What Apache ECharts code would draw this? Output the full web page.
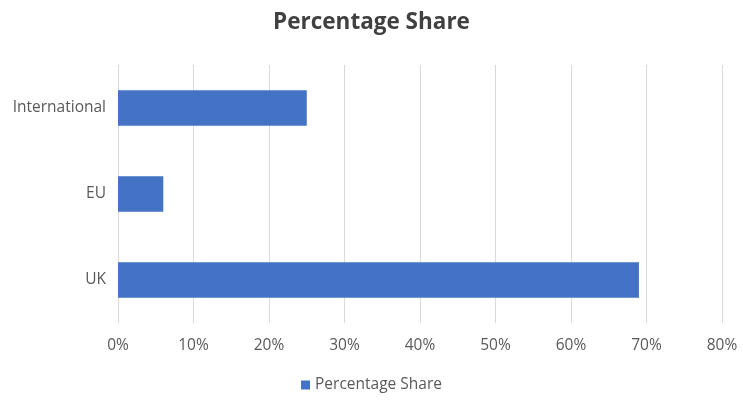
<!DOCTYPE html>
<html>
<head>
<meta charset="utf-8">
<script src="https://cdn.jsdelivr.net/npm/echarts@6/dist/echarts.min.js"></script>
<style>
  html, body { margin: 0; padding: 0; background: #fff; }
  #chart { width: 743px; height: 403px; }
</style>
</head>
<body>
<div id="chart"></div>
<script>
// categories, bottom to top
var categories = ['UK', 'EU', 'International'];
// share values in %
var shareValues = [69, 6, 25];
var seriesName = 'Percentage Share';

var myChart = echarts.init(document.getElementById('chart'));

var option = {
    animation: false,
    textStyle: {
        fontFamily: '"Open Sans", "Liberation Sans", sans-serif'
    },
    title: {
        text: 'Percentage Share',
        left: 'center',
        top: 6,
        textStyle: {
            color: '#404040',
            fontSize: 22.5,
            fontWeight: 'bold',
            fontFamily: '"Open Sans", sans-serif'
        }
    },
    legend: {
        bottom: 5,
        left: 'center',
        itemWidth: 9,
        itemHeight: 9,
        icon: 'rect',
        textStyle: {
            color: '#595959',
            fontSize: 15.5
        },
        data: [seriesName]
    },
    grid: {
        left: 118,
        right: 21,
        top: 65,
        bottom: 80
    },
    xAxis: {
        type: 'value',
        min: 0,
        max: 80,
        interval: 10,
        axisLine: { show: false },
        axisTick: { show: false },
        axisLabel: {
            color: '#595959',
            fontSize: 15.5,
            margin: 15,
            formatter: '{value}%'
        },
        splitLine: {
            lineStyle: { color: '#d9d9d9', width: 1 }
        }
    },
    yAxis: {
        type: 'category',
        data: categories,
        axisLine: { show: false },
        axisTick: { show: false },
        axisLabel: {
            color: '#595959',
            fontSize: 15.5,
            margin: 12
        }
    },
    series: [{
        name: seriesName,
        type: 'bar',
        data: shareValues,
        barCategoryGap: '59%',
        itemStyle: { color: '#4472C4' }
    }]
};

myChart.setOption(option);
</script>
</body>
</html>
